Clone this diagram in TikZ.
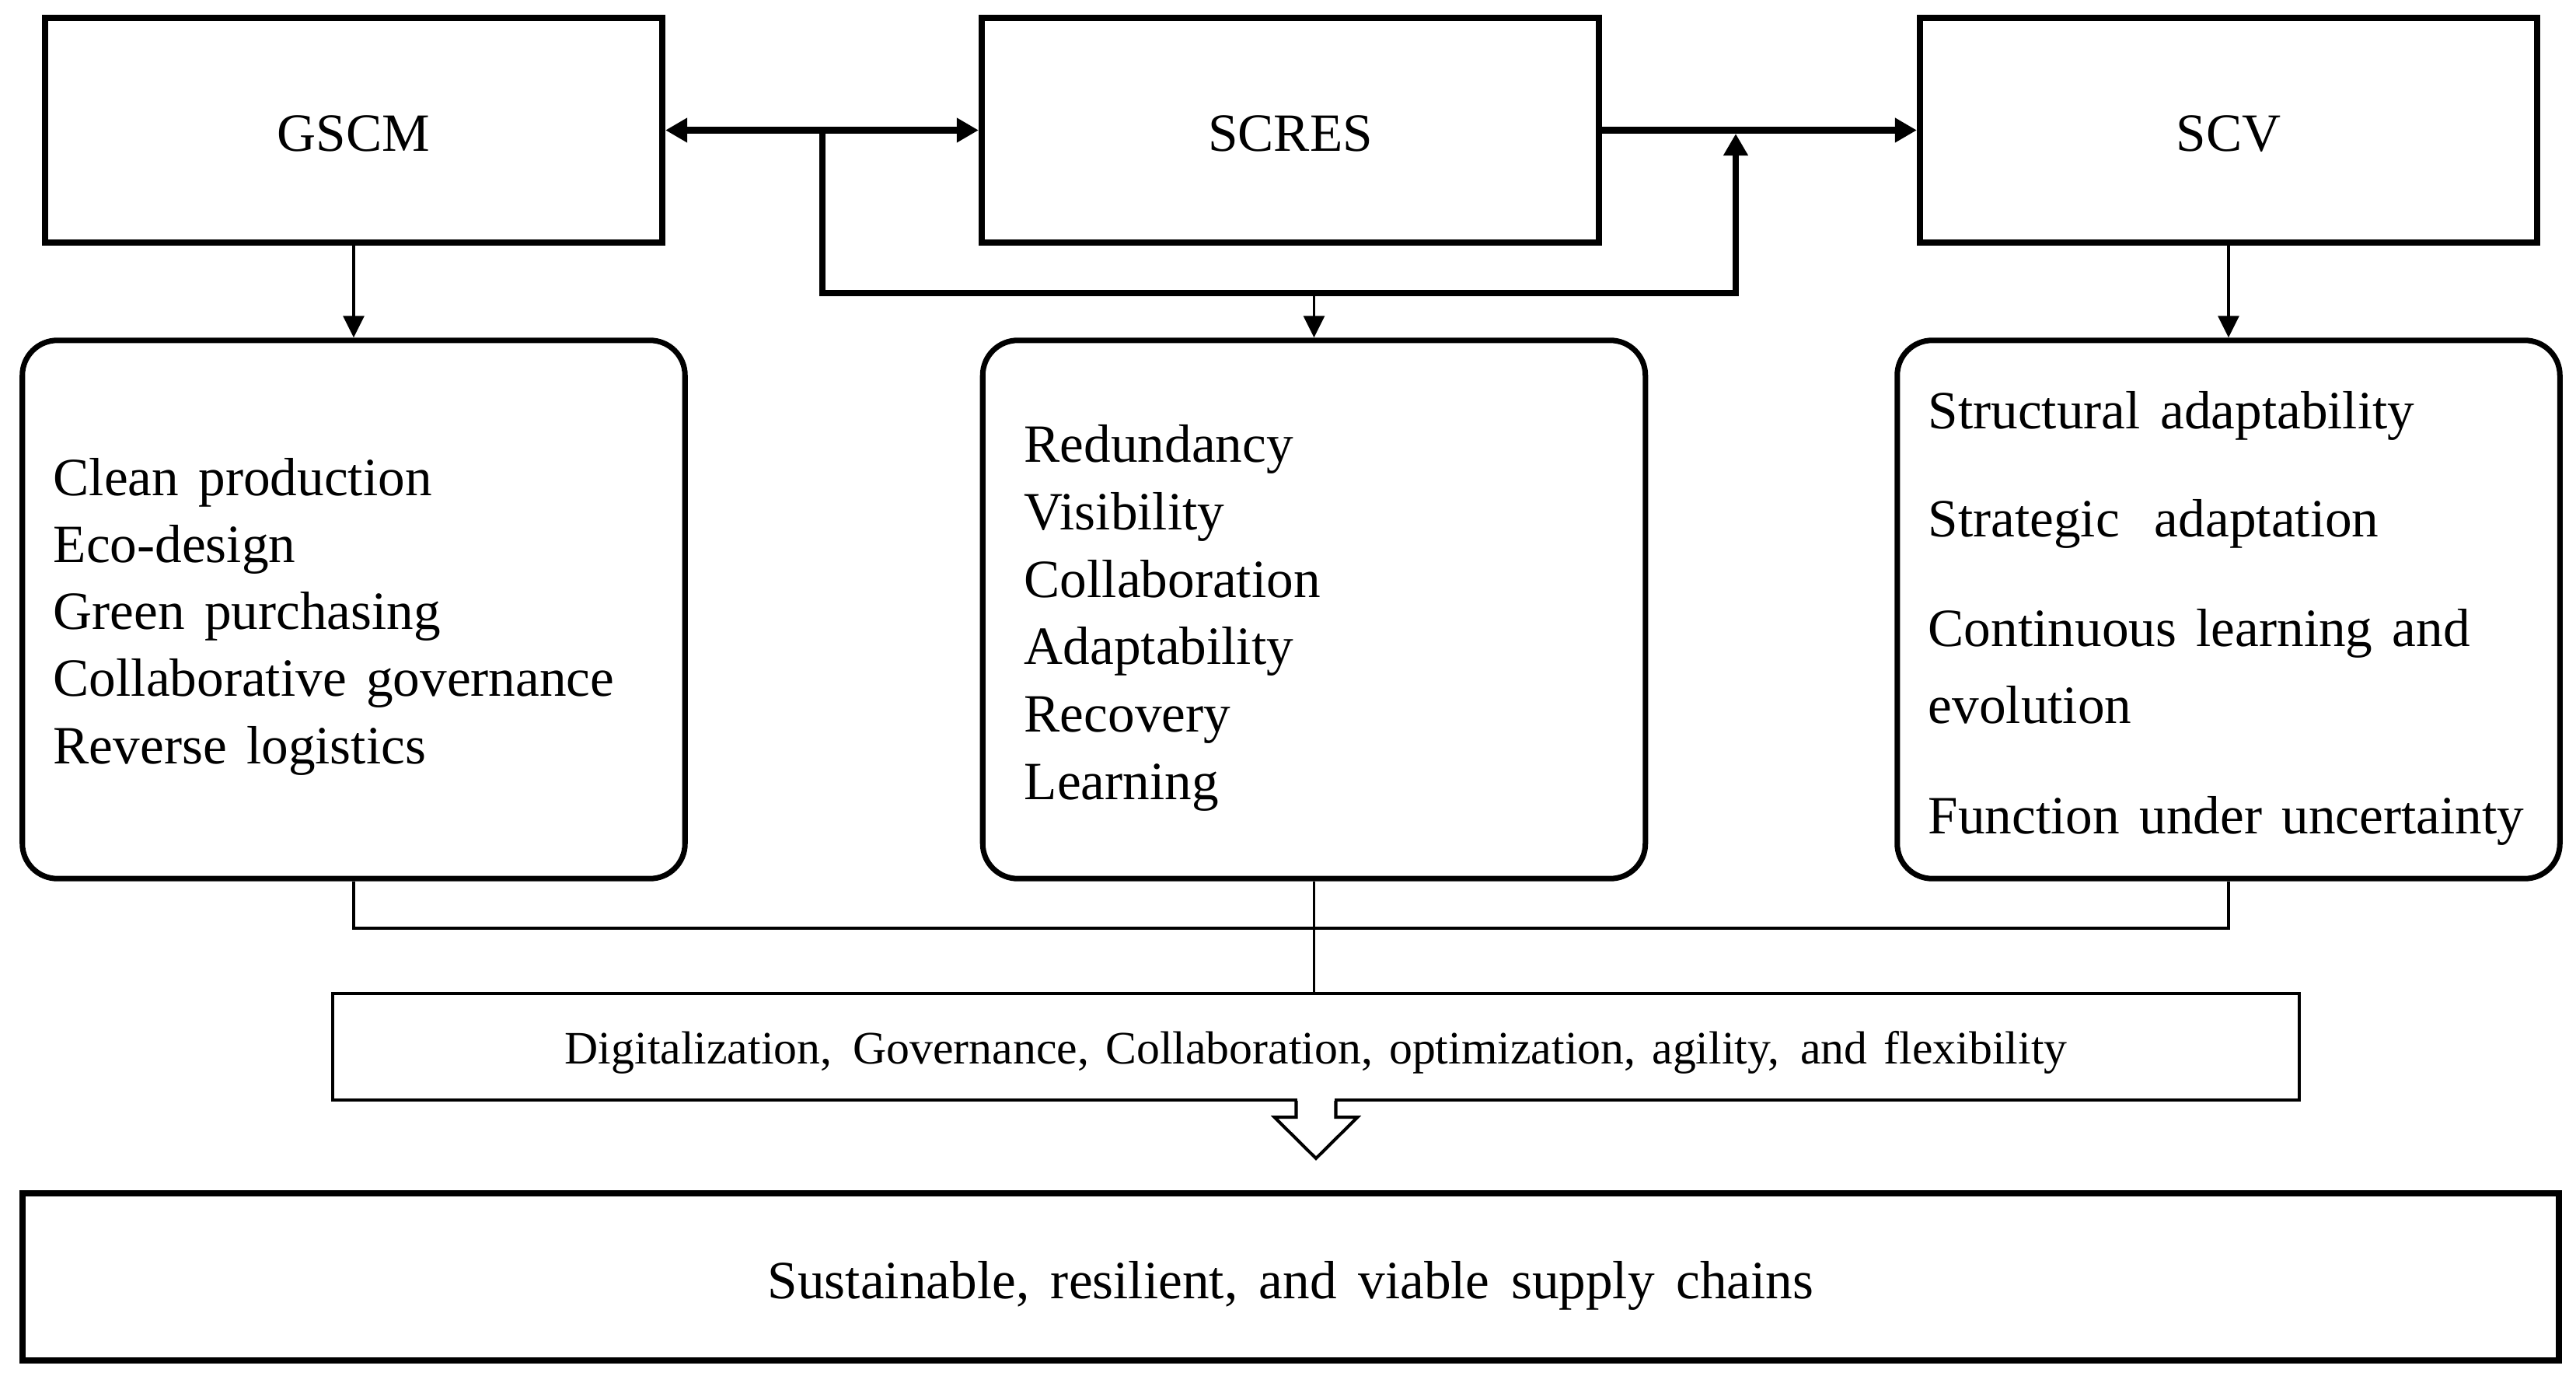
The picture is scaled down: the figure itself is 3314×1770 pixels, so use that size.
\documentclass[tikz,border=0pt]{standalone}
\usepackage{fontspec}
\setmainfont{Liberation Serif}
\usetikzlibrary{arrows.meta,calc}
\begin{document}
\begin{tikzpicture}[x=0.01cm,y=-0.01cm,
  mainfont/.style={font=\fontsize{19.7}{23.6}\selectfont},
  topbox/.style={draw, line width=2.2pt, minimum width=7.94cm, minimum height=2.89cm,
                 inner sep=0pt, mainfont, text height=0.53cm, text depth=0pt},
  listbox/.style={draw, line width=2pt, rounded corners=0.45cm, minimum width=8.52cm,
                  minimum height=6.92cm, inner sep=0pt},
  item/.style={anchor=base west, inner sep=0pt,
               font=\fontsize{19.7}{23.6}\selectfont\spaceskip 7.2pt\relax},
  thickarrow/.style={line width=2.3pt, -{Triangle[length=0.28cm,width=0.30cm]}},
  thickline/.style={line width=2.3pt},
  thinarrow/.style={line width=0.9pt, -{Triangle[length=0.28cm,width=0.27cm]}},
  thinline/.style={line width=1.1pt},
]
\useasboundingbox (0,0) rectangle (3314,1770);

% top boxes
\node[topbox] (gscm)  at (455,167.5)  {GSCM};
\node[topbox] (scres) at (1660,167.5) {SCRES};
\node[topbox] (scv)   at (2867,167.5) {SCV};

% list boxes
\node[listbox] (lbox) at (455,784) {};
\node[listbox] (mbox) at (1690.5,784) {};
\node[listbox] (rbox) at (2867,784) {};

% digitalization box and final box
\node[draw, line width=1.15pt, minimum width=25.28cm, minimum height=1.37cm, inner sep=0pt,
      font=\fontsize{17}{20}\selectfont\spaceskip 6pt\relax, text height=0.43cm, text depth=0pt]
      (digit) at (1693,1346.5)
      {Digitalization,\hspace{0.27cm}Governance, Collaboration, optimization, agility,\hspace{0.27cm}and flexibility};
\node[draw, line width=2.1pt, minimum width=32.61cm, minimum height=2.15cm, inner sep=0pt,
      font=\fontsize{19.7}{23.6}\selectfont\spaceskip 7.8pt\relax, text height=0.55cm, text depth=0pt]
      (final) at (1660.5,1642.5)
      {Sustainable, resilient, and viable supply chains};

% list texts
\node[item] (g1) at (68,637)   {Clean production};
\node[item] (g2) at (68,723.3) {Eco-design};
\node[item] (g3) at (68,809.6) {Green purchasing};
\node[item] (g4) at (68,895.9) {Collaborative governance};
\node[item] (g5) at (68,982.2) {Reverse logistics};

\node[item] (r1) at (1317,595)    {Redundancy};
\node[item] (r2) at (1317,681.6)  {Visibility};
\node[item] (r3) at (1317,768.2)  {Collaboration};
\node[item] (r4) at (1317,854.8)  {Adaptability};
\node[item] (r5) at (1317,941.4)  {Recovery};
\node[item] (r6) at (1317,1028)   {Learning};

\node[item] (v1) at (2480,551)  {Structural adaptability};
\node[item] (v2) at (2480,691)  {Strategic\hspace{0.45cm}adaptation};
\node[item] (v3) at (2480,831)  {Continuous learning and};
\node[item] (v4) at (2480,930)  {evolution};
\node[item] (v5) at (2480,1072) {Function under uncertainty};

% connectors between top boxes
\draw[line width=2.3pt, {Triangle[length=0.28cm,width=0.30cm]}-{Triangle[length=0.28cm,width=0.30cm]}]
  (gscm.east) -- (scres.west);
\draw[thickarrow] (scres.east) -- (scv.west);

% bracket
\coordinate (bl) at (1058,167.5);
\coordinate (bbl) at (1058,377);
\coordinate (bbr) at (2233,377);
\coordinate (br) at (2233,172);
\draw[thickline, line join=miter] (bl) -- (bbl) -- (bbr);
\draw[thickarrow] ($(bbr)+(0,4)$) -- (br);
\coordinate (bm) at (mbox.north |- bbl);
\draw[thinarrow] (bm) -- (mbox.north);

% down arrows
\draw[thinarrow] (gscm.south) -- (lbox.north);
\draw[thinarrow] (scv.south) -- (rbox.north);

% lower connectors
\coordinate (jl) at (lbox.south |- 0,1194);
\coordinate (jr) at (rbox.south |- 0,1194);
\draw[thinline] (lbox.south) -- (jl) -- (jr) -- (rbox.south);
\coordinate (dm) at (mbox.south |- digit.north);
\draw[thinline] (mbox.south) -- (dm);

% hollow arrow
\fill[white] ($(digit.south)+(-24,-4)$) rectangle ($(digit.south)+(24,5)$);
\draw[line width=1.15pt, line join=miter]
  ($(digit.south)+(-25.5,-1)$) -- ++(0,21) -- ++(-28,0) -- ($(digit.south)+(0,73)$)
  -- ($(digit.south)+(53.5,20)$) -- ++(-28,0) -- ++(0,-21);
\end{tikzpicture}
\end{document}
